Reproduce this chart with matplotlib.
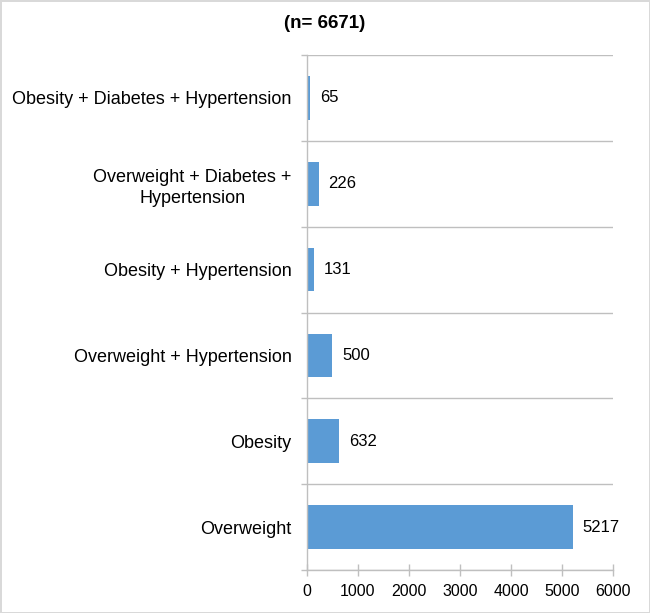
import matplotlib.pyplot as plt
from matplotlib.ticker import FixedLocator

plt.rcParams['font.family'] = ['Liberation Sans', 'DejaVu Sans']

# Categories from bottom to top
categories = ['Overweight', 'Obesity', 'Overweight + Hypertension',
              'Obesity + Hypertension', 'Overweight + Diabetes +\nHypertension',
              'Obesity + Diabetes + Hypertension']
counts = [5217, 632, 500, 131, 226, 65]
xticks = [0, 1000, 2000, 3000, 4000, 5000, 6000]
title = '(n= 6671)'

bar_color = '#5B9BD5'
grey = '#BFBFBF'

fig = plt.figure(figsize=(6.5, 6.13), dpi=100)
fig.patch.set_edgecolor('#D9D9D9')
fig.patch.set_linewidth(2)
ax = fig.add_axes([0.4723, 0.0701, 0.4707, 0.8402])

ypos = list(range(len(categories)))
ax.barh(ypos, counts, height=0.51, color=bar_color)
for y, v in zip(ypos, counts):
    ax.annotate(str(v), (v, y), xytext=(7, 0), textcoords='offset points',
                va='center', ha='left', fontsize=12)

ax.set_xlim(0, 6000)
ax.set_ylim(-0.5, len(categories) - 0.5)
ax.set_xticks(xticks)
ax.set_xticklabels([str(t) for t in xticks], fontsize=11.5)
ax.set_yticks(ypos)
ax.set_yticklabels(categories, fontsize=13, multialignment='center', linespacing=1.35)
ax.yaxis.set_minor_locator(FixedLocator([i + 0.5 for i in range(-1, len(categories))]))
ax.tick_params(axis='y', which='major', length=0, pad=11)
ax.tick_params(axis='y', which='minor', length=4, color=grey, width=1)
ax.tick_params(axis='x', which='major', direction='inout', length=8, color=grey, width=1, pad=6)
ax.grid(axis='y', which='minor', color=grey, linewidth=1)
ax.set_axisbelow(True)

for side in ['top', 'right']:
    ax.spines[side].set_visible(False)
for side in ['left', 'bottom']:
    ax.spines[side].set_color(grey)
    ax.spines[side].set_linewidth(1)

fig.text(0.5, 0.962, title, ha='center', va='center', fontsize=13.5, fontweight='bold')

fig.savefig('out.png', dpi=100, edgecolor=fig.get_edgecolor())
